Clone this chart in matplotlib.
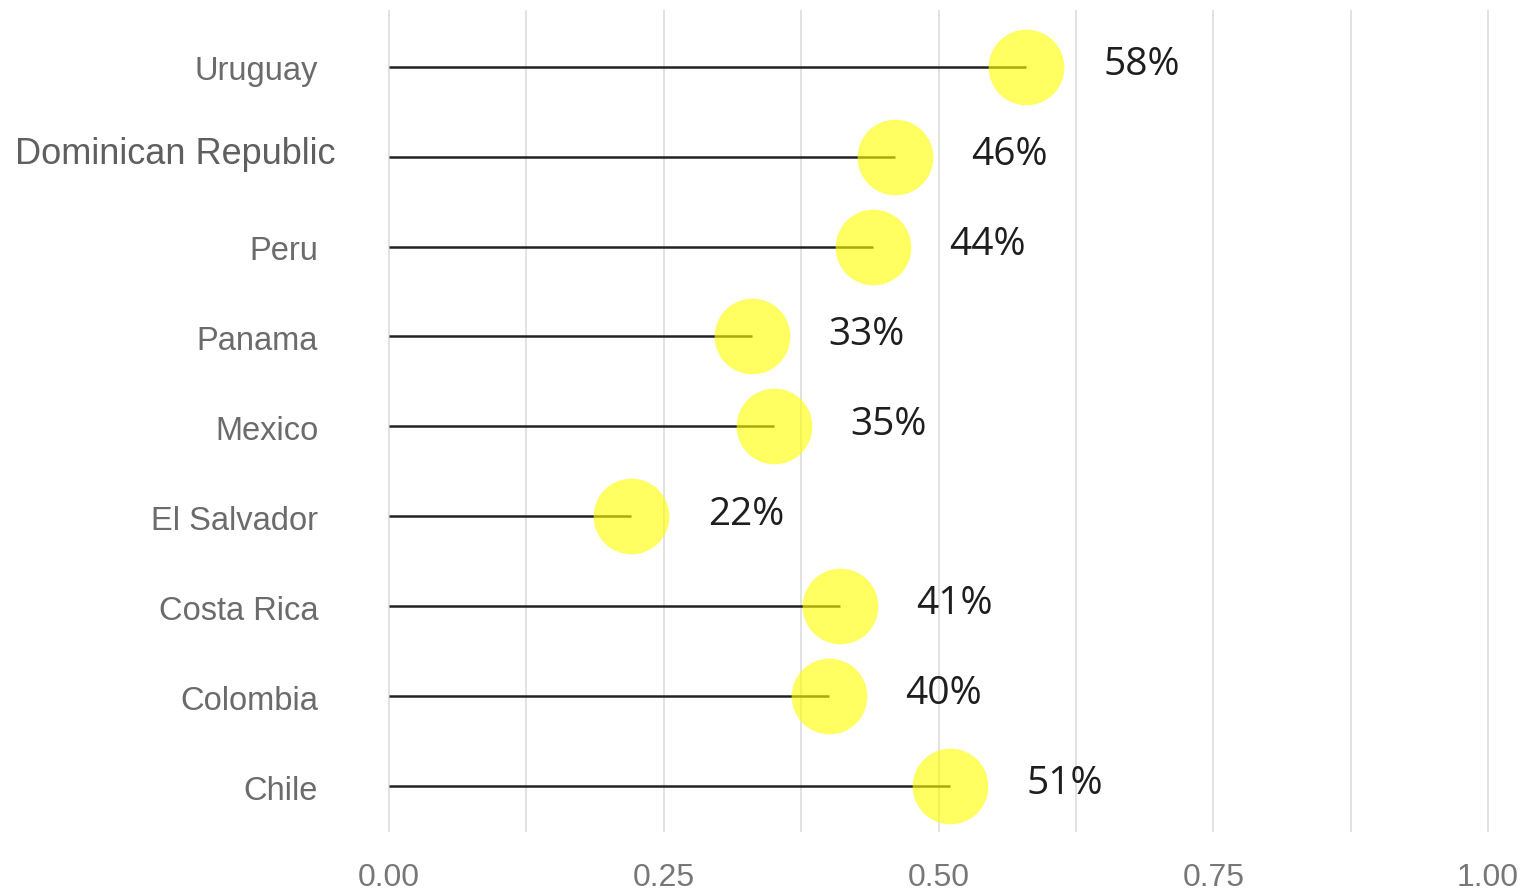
import matplotlib.pyplot as plt
import matplotlib.transforms as mtransforms
import numpy as np

# countries listed bottom to top, share as a fraction
countries = ['Chile', 'Colombia', 'Costa Rica', 'El Salvador', 'Mexico',
             'Panama', 'Peru', 'Dominican Republic', 'Uruguay']
shares = [0.51, 0.40, 0.41, 0.22, 0.35, 0.33, 0.44, 0.46, 0.58]
pct_labels = ['51%', '40%', '41%', '22%', '35%', '33%', '44%', '46%', '58%']

fig = plt.figure(figsize=(15.24, 8.92), dpi=100)
W, H = 1524, 892
ax = fig.add_axes([389 / W - 0.005 * 1099 / W, 60 / H, 1121 / W, 822 / H])

y = np.arange(len(countries))

ax.hlines(y, 0, shares, color='#222222', linewidth=1.8, zorder=2)
ax.plot(shares, y, 'o', markersize=54.5, color='#FFFF00', alpha=0.62,
        markeredgewidth=0, zorder=3)

for yi, v, lab in zip(y, shares, pct_labels):
    ax.text(v + 0.07, yi + 0.02, lab, ha='left', va='center',
            fontsize=28, family='Open Sans', color='#1e1e1e')

ax.set_xlim(-0.005, 1.015)
ax.set_ylim(-0.51, 8.63)

ax.set_xticks([0, 0.25, 0.5, 0.75, 1.0])
ax.set_xticklabels(['0.00', '0.25', '0.50', '0.75', '1.00'])
ax.set_xticks([0.125, 0.375, 0.625, 0.875], minor=True)
ax.grid(True, axis='x', which='both', color='#e2e2e2', linewidth=1.4, zorder=0)
ax.set_axisbelow(True)

ax.set_yticks(y)
ax.set_yticklabels(countries)
ax.tick_params(axis='both', which='both', length=0)
ax.tick_params(axis='y', pad=47, labelsize=23.5, labelcolor='#6b6b6b')
ax.tick_params(axis='x', pad=22, labelsize=23, labelcolor='#777777')
shift_down = mtransforms.ScaledTranslation(0, -5 / 100, fig.dpi_scale_trans)
for t in ax.get_yticklabels():
    t.set_family('Liberation Sans')
    t.set_va('center')
    if t.get_text() == 'Dominican Republic':
        t.set_fontsize(26)
        t.set_color('#5f5f5f')
        t.set_transform(t.get_transform() +
                        mtransforms.ScaledTranslation(17 / 100, 2 / 100, fig.dpi_scale_trans))
    else:
        t.set_transform(t.get_transform() + shift_down)
for t in ax.get_xticklabels():
    t.set_family('Liberation Sans')

for s in ax.spines.values():
    s.set_visible(False)

fig.savefig('out.png', dpi=100, facecolor='white')
